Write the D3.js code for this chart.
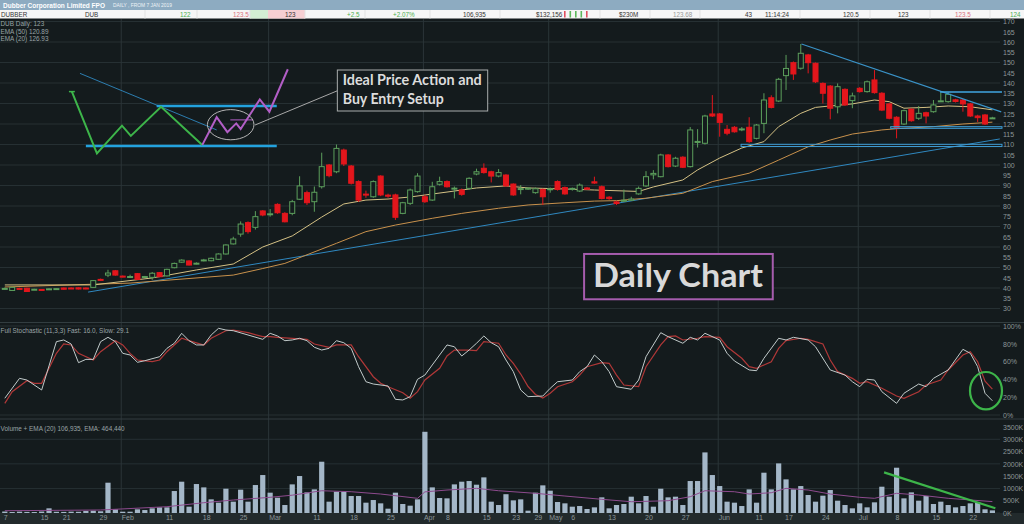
<!DOCTYPE html>
<html>
<head>
<meta charset="utf-8">
<script src="https://cdn.jsdelivr.net/npm/d3@7/dist/d3.min.js"></script>
<style>
body { margin: 0; background: #141b1d; overflow: hidden; }
svg { display: block; font-family: "Liberation Sans", Arial, sans-serif; }
</style>
</head>
<body>
<svg width="1024" height="524"></svg>
<script>
// daily bars, 7 Jan 2019 -> late Jul 2019 (index = trading day)
var open = [39.5,38.8,39.8,39.9,39.2,39.3,39.5,39.6,40.0,40.0,
  40.1,40.0,40.3,44.2,46.3,48.4,45.8,45.5,47.0,45.3,
  45.2,47.5,45.9,49.9,52.6,53.2,51.7,53.5,53.3,54.0,
  56.6,61.5,66.3,71.9,69.6,77.6,75.8,80.8,76.4,76.4,
  83.3,86.5,82.1,89.4,100.0,96.7,107.3,99.5,91.9,85.8,
  84.5,94.6,85.3,85.4,76.4,81.3,87.0,84.5,82.9,90.6,
  91.9,88.3,87.8,88.6,95.6,98.4,96.7,94.6,95.1,90.7,
  88.3,88.2,86.5,88.1,88.2,91.9,89.0,88.4,87.3,88.8,
  91.8,89.4,84.3,82.0,82.3,82.8,85.9,89.8,95.2,94.3,
  104.9,99.5,103.8,99.2,111.0,110.6,124.9,124.9,117.4,118.4,
  117.4,118.4,113.0,120.3,132.8,131.2,143.6,149.9,147.2,153.7,
  149.6,139.8,138.5,128.4,136.9,131.4,137.4,135.8,141.5,135.0,
  129.8,123.3,120.0,127.2,122.8,125.5,126.0,131.0,130.9,131.8,
  131.7,129.8,123.9,124.4,123.0];
var high = [40.2,40.6,40.1,40.1,39.6,39.5,39.8,39.9,40.2,40.3,
  40.3,40.2,43.9,44.6,48.9,48.8,46.1,46.5,47.3,45.9,
  47.8,47.8,49.4,52.4,54.0,53.5,52.5,54.2,54.8,56.9,
  61.3,65.0,72.5,72.5,77.5,78.0,78.5,81.3,77.0,83.0,
  94.5,87.5,89.5,106.0,100.5,110.0,108.0,100.0,92.5,87.5,
  92.5,95.0,86.0,86.0,82.0,88.5,96.0,85.5,91.8,94.3,
  92.5,89.5,88.5,94.0,98.2,100.8,97.2,98.0,95.5,91.0,
  90.2,89.0,89.0,88.5,89.0,92.5,89.5,89.0,91.0,89.3,
  94.3,90.0,84.8,82.5,88.0,84.5,89.5,97.0,97.5,105.5,
  105.3,104.0,104.3,118.5,117.5,124.5,134.1,125.4,119.5,119.0,
  118.5,123.3,120.0,135.0,134.0,142.5,153.7,150.5,159.0,154.2,
  150.0,140.3,139.0,139.8,137.4,135.3,138.0,141.2,146.3,135.5,
  130.3,123.8,127.0,127.7,128.8,126.0,131.7,135.3,135.5,132.3,
  132.2,130.3,124.5,124.9,123.5];
var low = [39.2,38.6,39.4,38.1,39.0,38.6,39.3,39.4,39.2,39.6,
  39.3,39.4,40.1,43.5,45.3,46.0,45.2,44.9,44.0,45.0,
  44.0,45.3,45.6,49.6,52.3,51.0,51.5,53.0,53.0,53.8,
  56.3,61.2,65.0,66.5,68.5,75.0,74.8,76.2,72.0,75.5,
  83.0,80.5,77.2,88.5,94.0,96.0,99.5,90.5,82.0,84.0,
  84.0,84.8,84.0,73.2,76.0,80.5,86.5,81.5,82.5,90.0,
  89.0,83.7,85.0,88.0,95.0,95.8,91.5,94.0,89.5,85.0,
  85.7,87.8,86.0,80.5,86.5,87.5,85.5,87.5,86.8,87.8,
  90.8,83.2,83.0,80.5,82.0,82.5,85.5,89.3,93.0,94.0,
  98.8,99.0,98.5,98.8,108.5,110.0,123.4,113.8,114.5,115.8,
  116.5,110.8,112.5,115.5,127.6,130.7,136.6,141.5,146.5,144.7,
  140.0,130.0,122.3,125.2,128.8,127.7,135.3,135.3,134.8,126.3,
  122.3,113.0,119.5,121.1,122.0,120.3,125.5,130.7,130.4,130.5,
  126.0,123.4,121.0,119.5,122.5];
var close = [39.8,40.3,39.6,38.3,39.4,38.8,39.6,39.7,39.4,39.8,
  39.5,39.6,43.6,43.8,47.3,46.3,45.4,45.6,44.2,45.6,
  47.2,45.5,49.1,52.0,53.6,51.2,52.1,53.7,54.5,56.6,
  61.0,63.9,71.2,67.5,74.8,75.6,76.2,76.7,72.3,82.1,
  89.8,81.6,86.7,99.2,94.8,108.1,100.5,91.1,82.9,85.4,
  91.9,85.4,84.8,74.5,81.6,87.8,94.6,82.1,89.4,91.9,
  89.4,88.7,85.7,93.5,96.7,96.3,94.6,96.3,89.8,85.4,
  88.5,88.7,88.4,84.5,88.4,88.1,85.9,88.6,90.2,88.2,
  91.2,83.7,83.6,81.2,82.8,83.4,88.6,94.3,95.9,104.9,
  99.2,103.3,98.9,117.1,111.5,123.9,123.9,120.8,115.5,116.2,
  117.6,111.4,119.5,131.7,128.1,141.8,147.1,144.4,154.5,149.9,
  140.6,135.0,127.7,138.2,129.3,133.7,135.8,140.6,135.3,126.8,
  122.8,117.9,126.5,121.6,125.2,123.9,129.3,131.3,134.5,131.0,
  129.8,123.9,123.1,120.0,123.0];
// volume in thousands
var volume = [60,40,55,45,40,60,190,50,45,55,
  50,85,95,70,1233,150,53,53,150,120,
  190,230,230,894,1274,257,1179,1043,556,420,
  989,461,949,461,1138,1545,827,623,325,1165,
  1504,840,962,2087,461,867,867,691,691,420,
  528,393,176,827,366,298,556,3305,1043,610,
  596,1165,1274,1301,1152,1450,461,325,765,515,
  556,95,827,1125,908,447,393,257,284,163,
  230,637,190,325,366,664,393,691,257,988,
  637,664,325,1301,1301,2466,1545,1097,461,420,
  284,962,420,1640,962,2019,1369,962,1097,732,
  461,705,935,501,325,190,393,230,434,1070,
  664,1843,596,840,501,691,366,461,325,230,
  284,393,434,150,107];

// indicator lines as [day index, value]
var ema20 = [[0,41.5],[12,41.5],[20,44.9],[26,48.8],[31,51.7],[35,60],[39,65.4],[43,74.6],[46,81],[49,82.9],
  [52,83.4],[55,84.4],[60,86.8],[64,88.8],[68,89.8],[71,88.8],[76,88.3],[80,87.8],[86,87.1],[88,89.3],
  [92,92.7],[94,97.6],[97,103.4],[100,108.3],[103,111.4],[105,118.7],[108,125.2],[110,128.1],[112,128.8],
  [115,129.8],[118,131.7],[120,130.9],[122,127.7],[125,128.1],[128,128.8],[131,128.4],[134,126.9]];
var ema50 = [[0,40.5],[17,42.4],[31,46.3],[35,49.5],[38,52.0],[45,61.8],[49,67.5],[53,70.7],[58,74],
  [62,76.4],[67,78.9],[71,80.5],[76,81.6],[80,82.4],[83,82.6],[87,83.8],[92,86.2],[96,91.9],[101,96],
  [105,102.4],[109,108.9],[112,112.2],[115,115.1],[119,117.1],[121,117.7],[126,118.7],[130,120],[134,120.9]];
var stochFast = [[0,18.8],[2,41.2],[3,39.3],[5,28.1],[7,82.4],[8,84.3],[9,79.8],[10,58.8],[11,62.5],[12,62.5],
  [13,82.4],[14,87.3],[15,82.4],[16,69.3],[17,67.4],[18,59.2],[19,61],[21,65.5],[22,74.9],[23,80.6],
  [24,91.8],[25,83.5],[26,78.7],[27,78.7],[28,89.9],[29,97.4],[30,95.5],[31,94.7],[33,89.9],[35,85],
  [36,91.8],[37,88.8],[38,83.5],[39,84.3],[40,86.2],[41,83.5],[42,76.1],[43,73],[44,74.9],[45,83.5],
  [46,81.2],[47,74.9],[48,54.3],[49,37.4],[50,34.8],[52,32.6],[53,17.6],[54,16.9],[55,20.6],[56,40.1],
  [57,44.9],[58,56.2],[60,78.7],[61,76.7],[62,66.3],[63,73],[64,80.6],[65,88.8],[66,81.2],[67,76.7],
  [68,61.8],[69,48.7],[70,28.1],[71,20.6],[73,21.3],[74,30],[75,37.4],[77,39.3],[78,48.7],[79,54.3],
  [80,67.4],[81,59.9],[82,48.7],[83,31.8],[85,28.9],[86,39.3],[87,65.5],[89,92.5],[90,88],[92,80.6],
  [93,87.3],[94,84.3],[95,91.8],[97,84.3],[98,69.3],[99,60.7],[101,50.6],[102,49.8],[103,63.7],[105,86.2],
  [106,84.3],[107,87.3],[109,84.3],[110,76.7],[112,50.6],[114,44.9],[115,37.4],[116,31.8],[117,40.1],
  [118,39.3],[119,26.2],[121,13.1],[122,24.4],[124,34.8],[125,31.8],[126,41.2],[128,50.6],[130,73.8],
  [131,69.3],[132,54.3],[133,24.4],[134,16.0]];
var stochSlow = [[0,13.1],[1,26.2],[3,38.6],[4,35.6],[5,35.6],[7,69.3],[8,79.8],[9,78.7],[10,69.3],[12,61.8],
  [13,71.1],[15,83.5],[16,78.7],[17,69.3],[18,61.8],[20,59.9],[21,61.8],[22,71.1],[24,86.2],[25,83.5],
  [27,78.7],[28,86.2],[30,94.7],[31,95.5],[33,92.5],[35,88],[36,88],[37,87.3],[39,86.2],[41,85],
  [42,79.8],[44,76.1],[45,78.7],[47,78.7],[48,65.5],[50,43],[51,35.6],[52,31.8],[54,25.1],[55,18.8],
  [56,26.2],[57,39.3],[59,52.5],[60,66.3],[61,73],[63,73],[64,72.3],[65,82.4],[67,80.6],[68,67.4],
  [69,58],[70,46],[71,32],[72,23],[73,19],[74,24.4],[75,31.8],[77,37.4],[78,44.9],[79,54.3],
  [81,58.8],[82,58.1],[83,44.9],[84,33.7],[86,31.8],[87,54.3],[89,78.7],[90,88],[91,88.8],[92,84.3],
  [94,86.2],[95,88],[97,87.3],[98,76.7],[100,63.7],[101,54.3],[102,52.5],[104,59.9],[105,74.9],[106,83.5],
  [108,86.2],[109,85],[111,79.8],[112,61.8],[113,48.7],[115,41.2],[116,35.6],[117,37.4],[119,30],[121,21.3],
  [122,18.8],[124,26.2],[125,33.7],[127,39.3],[128,50.6],[130,67.4],[131,71.1],[132,59.9],[133,38],[134,29.1]];
var volEma = [[0,93],[13,122],[22,256],[27,419],[31,528],[36,638],[39,725],[43,906],[47,866],[51,772],
  [56,598],[57,860],[60,935],[64,1004],[67,906],[72,801],[76,691],[81,557],[85,459],[90,500],[93,663],
  [95,906],[99,866],[101,772],[104,825],[106,1004],[109,935],[112,772],[116,638],[118,598],[121,801],
  [124,732],[128,598],[134,464]];

// x axis ticks
var tickIdx = [0,5,8,13,16,22,27,32,36,42,47,52,57,60,65,69,72,74,77,82,87,92,97,102,106,111,116,121,126,131];
var tickLabels = ["7","15","21","29","Feb","11","18","25","Mar","11","18","25","Apr","8","15","23","29","May","6","13","20","27","Jun","11","17","24","Jul","8","15","22"];
var monthIdx = [16,36,57,74,97,116];
var priceTicks = d3.range(30, 171, 5);
var priceGrid = d3.range(30, 171, 10);
var stochTicks = [0,20,40,60,80,100];
var volTicks = [0,500,1000,1500,2000,2500,3000,3500];
var volGrid = [0,1000,2000,3000];

// hand-drawn annotations, [day index, price]
var patternGreen = [[9.1,135.8],[12.5,105.7],[15.9,119.2],[17.1,114.2],[21.2,128.4],[26.8,109.8]];
var patternPurple = [[26.8,109.8],[28.75,123.3],[30.2,116],[31.4,120.3],[32,117.6],[34.6,132],[35.9,126],[38.4,146.7]];
var patternTop = [[20.6,128.8],[36.9,128.8]];
var patternBottom = [[11,109.3],[36.9,109.3]];
var patternSlope = [[10.2,144.7],[28.75,117.1]];
var longTrend = [[11.3,38.0],[135,112.7]];
var peakTrend = [[108.1,159],[135.2,125.9]];
var resist135 = [[126.9,135.6],[135.3,135.6]];

var bg = "#141b1d", grid = "#263033", axisCol = "#8c9698";
var svg = d3.select("svg");
var x = d3.scaleLinear().domain([0, 134]).range([4.8, 992.4]);
var yP = d3.scaleLinear().domain([30, 170]).range([308.5, 21.5]);
var yS = d3.scaleLinear().domain([0, 100]).range([415, 326]);
var yV = d3.scaleLinear().domain([0, 3500]).range([513, 427]);
var plotR = 1000;

svg.append("rect").attr("width", 1024).attr("height", 524).attr("fill", bg);

// header bar and quote row
svg.append("rect").attr("width", 1024).attr("height", 10).attr("fill", "#8dabc1");
svg.append("text").attr("x", 3).attr("y", 7.6).attr("fill", "#fff").attr("font-weight", "bold")
  .attr("font-size", 7.2).attr("textLength", 102).attr("lengthAdjust", "spacingAndGlyphs")
  .text("Dubber Corporation Limited FPO");
svg.append("text").attr("x", 113).attr("y", 7.4).attr("fill", "#eef3f7").attr("font-size", 4.6)
  .attr("textLength", 59).attr("lengthAdjust", "spacingAndGlyphs").text("DAILY , FROM 7 JAN 2019");
svg.append("rect").attr("y", 10).attr("width", 1024).attr("height", 8.5).attr("fill", "#f6f6f6");
svg.append("rect").attr("x", 250).attr("y", 10).attr("width", 18).attr("height", 8.5).attr("fill", "#d3eed3");
svg.append("rect").attr("x", 268).attr("y", 10).attr("width", 37).attr("height", 8.5).attr("fill", "#f6cfd2");
[145, 197, 250, 305, 365, 430, 500, 600, 650, 700, 800, 870, 930, 990].forEach(function(s) {
  svg.append("line").attr("x1", s).attr("x2", s).attr("y1", 10).attr("y2", 18.5).attr("stroke", "#e2e2e2");
});
var quoteText = ["DUBBER","DUB","122","123.5","123","+2.5","+2.07%","106,935","$132,156","$230M","123.68","43","11:14:24","120.5","123","123.5","124"];
var quoteX = [1,85,180,233,285,347,393,463,536,619,673,745,765,843,898,955,1010];
var quoteCol = ["#333","#333","#4caf50","#d9707e","#333","#4caf50","#4caf50","#333","#333","#333","#999","#333","#333","#333","#333","#d9707e","#4caf50"];
quoteText.forEach(function(t, i) {
  svg.append("text").attr("x", quoteX[i]).attr("y", 16.7).attr("font-size", 6.3)
    .attr("fill", quoteCol[i]).text(t);
});
["#e05060","#5cb85c","#5cb85c","#5cb85c","#e05060"].forEach(function(c, i) {
  svg.append("rect").attr("x", 564 + i * 5.5).attr("y", 11).attr("width", 1.6).attr("height", 6.5).attr("fill", c);
});

// panel grid
var g = svg.append("g");
g.selectAll(".hp").data(priceGrid).enter().append("line")
  .attr("x1", 0).attr("x2", plotR).attr("y1", function(d) { return yP(d); }).attr("y2", function(d) { return yP(d); })
  .attr("stroke", grid);
g.selectAll(".hv").data(volGrid).enter().append("line")
  .attr("x1", 0).attr("x2", plotR).attr("y1", function(d) { return yV(d); }).attr("y2", function(d) { return yV(d); })
  .attr("stroke", grid);
[0, 100].forEach(function(d) {
  g.append("line").attr("x1", 0).attr("x2", plotR).attr("y1", yS(d)).attr("y2", yS(d)).attr("stroke", grid);
});
g.selectAll(".vm").data(monthIdx).enter().append("line")
  .attr("x1", function(d) { return x(d) - 1.5; }).attr("x2", function(d) { return x(d) - 1.5; })
  .attr("y1", 19).attr("y2", 513).attr("stroke", "#2b3538");
[322.5, 419].forEach(function(yy) {
  g.append("line").attr("x1", 0).attr("x2", 1024).attr("y1", yy).attr("y2", yy).attr("stroke", "#323d40");
});
svg.append("rect").attr("y", 513).attr("width", 1024).attr("height", 11).attr("fill", "#222a2c");

// legends
var legend = ["DUB Daily: 123", "EMA (50) 120.89", "EMA (20) 126.93"];
legend.forEach(function(t, i) {
  svg.append("text").attr("x", 0.5).attr("y", 26 + i * 7.6).attr("font-size", 6.4).attr("fill", "#9aa4a6").text(t);
});
svg.append("text").attr("x", 0.5).attr("y", 332.5).attr("font-size", 6.4).attr("fill", "#9aa4a6")
  .text("Full Stochastic (11,3,3) Fast: 16.0, Slow: 29.1");
svg.append("text").attr("x", 0.5).attr("y", 430.5).attr("font-size", 6.4).attr("fill", "#9aa4a6")
  .text("Volume + EMA (20) 106,935, EMA: 464,440");

// price axis, stochastic axis, volume axis
function styleAxis(sel) {
  sel.attr("font-size", 7).attr("font-family", "Liberation Sans, Arial, sans-serif");
  sel.select(".domain").remove();
  sel.selectAll("text").attr("fill", axisCol);
}
svg.append("g").attr("transform", "translate(" + plotR + ",0)")
  .call(d3.axisRight(yP).tickValues(priceTicks).tickSize(0).tickPadding(3)).call(styleAxis);
svg.append("g").attr("transform", "translate(" + plotR + ",0)")
  .call(d3.axisRight(yS).tickValues(stochTicks).tickSize(0).tickPadding(3).tickFormat(function(d) { return d + "%"; }))
  .call(styleAxis);
svg.append("g").attr("transform", "translate(" + plotR + ",0)")
  .call(d3.axisRight(yV).tickValues(volTicks).tickSize(0).tickPadding(3).tickFormat(function(d) { return d + "K"; }))
  .call(styleAxis);
svg.append("g").attr("transform", "translate(0,513)")
  .call(d3.axisBottom(x).tickValues(tickIdx).tickSize(0).tickPadding(2)
    .tickFormat(function(d, i) { return tickLabels[i]; }))
  .call(styleAxis)
  .selectAll("text").attr("text-anchor", "start").attr("dx", -1.5);

// EMAs and trendline
var lineP = d3.line().x(function(d) { return x(d[0]); }).y(function(d) { return yP(d[1]); });
svg.append("path").datum(longTrend).attr("d", lineP).attr("fill", "none").attr("stroke", "#2f88c0").attr("stroke-width", 1);
svg.append("path").datum(ema50).attr("d", lineP).attr("fill", "none").attr("stroke", "#c8914c").attr("stroke-width", 1);
svg.append("path").datum(ema20).attr("d", lineP).attr("fill", "none").attr("stroke", "#d4c185").attr("stroke-width", 1);

// candles
var idx = d3.range(open.length);
var cg = svg.append("g");
cg.selectAll(".wick").data(idx).enter().append("line")
  .attr("x1", function(i) { return x(i); }).attr("x2", function(i) { return x(i); })
  .attr("y1", function(i) { return yP(high[i]); }).attr("y2", function(i) { return yP(low[i]); })
  .attr("stroke", function(i) { return close[i] >= open[i] ? "#5c9f5c" : "#e3161c"; });
cg.selectAll(".body").data(idx).enter().append("rect")
  .attr("x", function(i) { return x(i) - 2.5; })
  .attr("width", 5)
  .attr("y", function(i) { return yP(Math.max(open[i], close[i])); })
  .attr("height", function(i) { return Math.max(1, Math.abs(yP(open[i]) - yP(close[i]))); })
  .attr("fill", function(i) { return close[i] >= open[i] ? bg : "#e3161c"; })
  .attr("stroke", function(i) { return close[i] >= open[i] ? "#5c9f5c" : "#e3161c"; })
  .attr("stroke-width", 1);

// right side annotations
svg.append("path").datum(peakTrend).attr("d", lineP).attr("fill", "none").attr("stroke", "#3a93c8").attr("stroke-width", 1.2);
svg.append("path").datum(resist135).attr("d", lineP).attr("fill", "none").attr("stroke", "#41a6e0").attr("stroke-width", 1.5);
[[120.2, 118.7, 117.9], [99.9, 110.1, 109.0]].forEach(function(b) {
  svg.append("rect").attr("x", x(b[0])).attr("y", yP(b[1]))
    .attr("width", x(135.3) - x(b[0])).attr("height", yP(b[2]) - yP(b[1]))
    .attr("fill", "none").attr("stroke", "#3f9fd8").attr("stroke-width", 1);
});

// pattern sketch top-left
svg.append("path").datum(patternSlope).attr("d", lineP).attr("fill", "none").attr("stroke", "#2f88c0").attr("stroke-width", 0.9);
svg.append("path").datum(patternTop).attr("d", lineP).attr("fill", "none").attr("stroke", "#23a2de").attr("stroke-width", 2.6);
svg.append("path").datum(patternBottom).attr("d", lineP).attr("fill", "none").attr("stroke", "#23a2de").attr("stroke-width", 2.6);
svg.append("path").datum(patternGreen).attr("d", lineP).attr("fill", "none").attr("stroke", "#3db54a").attr("stroke-width", 2);
svg.append("path").datum([[8.7,135.8],[9.5,135.8]]).attr("d", lineP).attr("fill", "none").attr("stroke", "#3db54a").attr("stroke-width", 1.5);
svg.append("path").datum(patternPurple).attr("d", lineP).attr("fill", "none").attr("stroke", "#b25ec6").attr("stroke-width", 2);
svg.append("path").datum([[30.6,122],[33.7,122]]).attr("d", lineP).attr("fill", "none").attr("stroke", "#b25ec6").attr("stroke-width", 1);
svg.append("ellipse").attr("cx", x(30.65)).attr("cy", yP(119.66))
  .attr("rx", x(30.65 + 3.16) - x(30.65)).attr("ry", yP(112.3) - yP(119.66))
  .attr("fill", "none").attr("stroke", "#b4b4b4").attr("stroke-width", 1);
svg.append("path").datum([[33.95,119.5],[45.12,136.2]]).attr("d", lineP).attr("fill", "none").attr("stroke", "#a8a8a8").attr("stroke-width", 1);

// callout box
svg.append("rect").attr("x", x(45.12)).attr("y", yP(146.34))
  .attr("width", x(65.52) - x(45.12)).attr("height", yP(126.34) - yP(146.34))
  .attr("fill", bg).attr("stroke", "#a9adad").attr("stroke-width", 1);
[["Ideal Price Action and", 139.0, 139], ["Buy Entry Setup", 129.76, 101]].forEach(function(t) {
  svg.append("text").attr("x", x(45.85)).attr("y", yP(t[1]))
    .attr("font-family", "Lato, 'Open Sans', sans-serif").attr("font-weight", "bold").attr("font-size", 15)
    .attr("fill", "#dcdcdc").attr("textLength", t[2]).attr("lengthAdjust", "spacingAndGlyphs").text(t[0]);
});

svg.append("rect").attr("x", x(78.6)).attr("y", yP(56.6))
  .attr("width", x(104.2) - x(78.6)).attr("height", yP(34.5) - yP(56.6))
  .attr("fill", bg).attr("stroke", "#a55cad").attr("stroke-width", 2);
svg.append("text").attr("x", x(79.8)).attr("y", yP(40.6))
  .attr("font-family", "Lato, 'Open Sans', sans-serif").attr("font-weight", "bold").attr("font-size", 33)
  .attr("fill", "#d9d9d9").attr("textLength", 170).attr("lengthAdjust", "spacingAndGlyphs").text("Daily Chart");

// stochastic
var lineS = d3.line().x(function(d) { return x(d[0]); }).y(function(d) { return yS(d[1]); });
svg.append("path").datum(stochSlow).attr("d", lineS).attr("fill", "none").attr("stroke", "#b03838").attr("stroke-width", 1.2);
svg.append("path").datum(stochFast).attr("d", lineS).attr("fill", "none").attr("stroke", "#c2cbcb").attr("stroke-width", 1);
svg.append("ellipse").attr("cx", x(133.13)).attr("cy", yS(27.3))
  .attr("rx", x(135.3) - x(133.13)).attr("ry", yS(6.3) - yS(27.3))
  .attr("fill", "none").attr("stroke", "#3db54a").attr("stroke-width", 2.2);

// volume
svg.selectAll(".vol").data(idx).enter().append("rect")
  .attr("x", function(i) { return x(i) - 2.6; })
  .attr("width", 5.2)
  .attr("y", function(i) { return yV(volume[i]); })
  .attr("height", function(i) { return yV(0) - yV(volume[i]); })
  .attr("fill", "#a4b7c8");
var lineV = d3.line().x(function(d) { return x(d[0]); }).y(function(d) { return yV(d[1]); });
svg.append("path").datum(volEma).attr("d", lineV).attr("fill", "none").attr("stroke", "#8e4b8e").attr("stroke-width", 1);
svg.append("path").datum([[119.3,1654],[134.4,191]]).attr("d", lineV).attr("fill", "none").attr("stroke", "#3db54a").attr("stroke-width", 2.2);
</script>
</body>
</html>
